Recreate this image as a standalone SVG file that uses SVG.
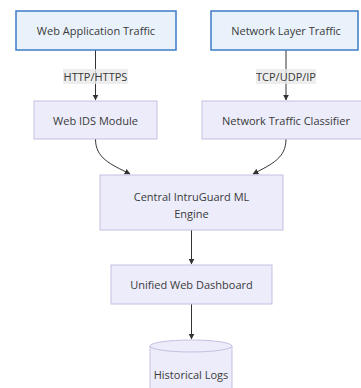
<svg xmlns="http://www.w3.org/2000/svg" width="361" height="388" viewBox="0 0 361 388">
  <style>
    .src rect { fill: #e9f2fb; stroke: #3d7cc6; stroke-width: 1.5; }
    .proc rect, .proc path { fill: #ececfa; stroke: #c6bfe2; stroke-width: 1; }
    text { font-family: "Open Sans", "Liberation Sans", sans-serif; font-size: 11px; fill: #3a3a3a; text-anchor: middle; dominant-baseline: central; }
    .edge { fill: none; stroke: #333; stroke-width: 1; marker-end: url(#arrow); }
    .lbl rect { fill: #e8e8e8; fill-opacity: 0.8; stroke: none; }
  </style>
  <defs>
    <marker id="arrow" viewBox="0 0 10 10" refX="9" refY="5" markerWidth="6" markerHeight="6" markerUnits="userSpaceOnUse" orient="auto">
      <path d="M0,0 L10,5 L0,10 z" fill="#333"/>
    </marker>
  </defs>
  <rect width="361" height="388" fill="#ffffff"/>

  <g id="connectors">
    <path class="edge" d="M95.5,50 L95.5,100"/>
    <path class="edge" d="M286,50 L286,100"/>
    <path class="edge" d="M95.5,139 C95.5,158 110,164 130,174"/>
    <path class="edge" d="M286,139 C286,158 272,164 253,174"/>
    <path class="edge" d="M191.5,230 L191.5,264"/>
    <path class="edge" d="M191.5,304 L191.5,339"/>
    <g class="lbl">
      <rect x="63" y="69" width="65" height="15"/>
      <text x="95.5" y="76.5">HTTP/HTTPS</text>
      <rect x="256" y="69" width="60" height="15"/>
      <text x="286" y="76.5">TCP/UDP/IP</text>
    </g>
  </g>

  <g id="web-app-traffic" class="src">
    <rect x="16" y="11" width="160" height="39"/>
    <text x="96" y="30.5">Web Application Traffic</text>
  </g>
  <g id="network-layer-traffic" class="src">
    <rect x="211" y="11" width="147" height="39"/>
    <text x="286" y="30.5">Network Layer Traffic</text>
  </g>
  <g id="web-ids-module" class="proc">
    <rect x="34" y="101" width="123" height="38"/>
    <text x="95.5" y="120">Web IDS Module</text>
  </g>
  <g id="network-traffic-classifier" class="proc">
    <rect x="202" y="101" width="160" height="38"/>
    <text x="286" y="120">Network Traffic Classifier</text>
  </g>
  <g id="central-engine" class="proc">
    <rect x="100" y="175" width="183" height="55"/>
    <text x="191.5" y="196">Central IntruGuard ML</text>
    <text x="191.5" y="213">Engine</text>
  </g>
  <g id="unified-dashboard" class="proc">
    <rect x="111" y="265" width="161" height="39"/>
    <text x="191.5" y="284.5">Unified Web Dashboard</text>
  </g>
  <g id="historical-logs" class="proc">
    <path d="M150,346 A41,6 0 0 1 232,346 L232,392 L150,392 Z"/>
    <path d="M150,346 A41,6 0 0 0 232,346" fill="none"/>
    <text x="191" y="374">Historical Logs</text>
  </g>
</svg>
